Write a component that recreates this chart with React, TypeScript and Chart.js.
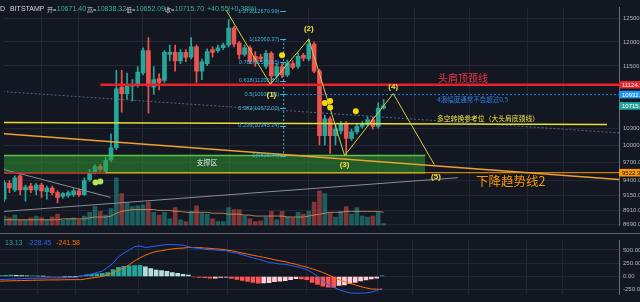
import React, { useEffect, useRef } from "react";
import { Chart, registerables } from "chart.js";

Chart.register(...registerables);

// ---------------- data ----------------
const opens = [
  9086, 9345, 9237, 9469, 9237, 9298, 9237, 9314, 9207, 9268,
  9192, 9131, 9146, 9161, 9222, 9161, 9407, 9532, 9627, 9548,
  9739, 9951, 11079, 10952, 11098, 11134, 11357, 11817, 11079, 11246,
  11208, 11739, 11778, 11604, 11778, 11681, 11895, 11395, 11547, 11837,
  11817, 11876, 11935, 12295, 11974, 11739, 11876, 11700, 11681, 11489,
  11759, 11301, 11489, 11320, 11547, 11489, 11720, 11643, 11954, 11395,
  10167, 10474, 10167, 10251, 10371, 10117, 10234, 10336, 10371, 10457,
  10336, 10671.4,
];
const highs = [
  9391, 9391, 9469, 9501, 9314, 9345, 9345, 9345, 9298, 9298,
  9222, 9192, 9222, 9253, 9253, 9438, 9579, 9659, 9659, 9788,
  10200, 11414, 11414, 11357, 11227, 11489, 11876, 12093, 11489, 11339,
  11817, 11935, 11935, 11837, 11837, 12093, 11935, 11643, 11856, 11895,
  11935, 11974, 12479, 12336, 12013, 11935, 11915, 11798, 11739, 11817,
  11798, 11547, 11547, 11623, 11604, 11759, 11759, 12060.37, 11994, 11433,
  10544, 10509, 10371, 10422, 10422, 10285, 10388, 10422, 10509, 10509,
  10772, 10838.32,
];
const lows = [
  9041, 9192, 9207, 9161, 9056, 9192, 9161, 9116, 9086, 9161,
  9026, 9101, 9116, 9131, 9131, 9146, 9376, 9501, 9548, 9517,
  9707, 9918, 10596, 10844, 10808, 11079, 11320, 10579, 10934, 11025,
  11171, 11604, 11395, 11547, 11585, 11643, 11171, 11227, 11508, 11681,
  11778, 11837, 11895, 11895, 11643, 11700, 11547, 11489, 11585, 11451,
  11134, 11264, 11264, 11283, 11433, 11451, 11604, 11604, 11357, 10000,
  10000, 9853, 10000, 10200, 9815.44, 10083, 10200, 10302, 10336, 10285,
  10302, 10652.09,
];
const closes = [
  9360, 9268, 9438, 9237, 9283, 9237, 9314, 9222, 9268, 9192,
  9116, 9177, 9192, 9222, 9161, 9391, 9532, 9627, 9579, 9739,
  9951, 11043, 10952, 11116, 11134, 11376, 11817, 11098, 11227, 11171,
  11778, 11778, 11604, 11778, 11681, 11895, 11395, 11585, 11798, 11778,
  11876, 11935, 12295, 11954, 11739, 11876, 11604, 11585, 11643, 11759,
  11301, 11489, 11320, 11547, 11470, 11700, 11662, 11954, 11395, 10167,
  10474, 10167, 10285, 10371, 10117, 10234, 10336, 10388, 10457, 10336,
  10675.15, 10715.7,
];
const volumes = [
  10000, 8000, 11000, 6000, 6000, 8000, 10000, 8000, 6000, 9000,
  12000, 6000, 7000, 8000, 6000, 10000, 14000, 20000, 15000, 11000,
  18000, 51000, 34000, 24000, 20000, 21000, 22000, 25000, 14000, 11000,
  14000, 7000, 19000, 6000, 4000, 15000, 21000, 13000, 12000, 7000,
  4000, 4000, 19000, 17000, 17000, 10000, 7000, 4000, 5000, 9000,
  15000, 6000, 15000, 9000, 8000, 14000, 12000, 15000, 25000, 37000,
  34000, 13000, 9000, 15000, 20000, 12000, 19000, 10000, 9000, 10000,
  14000, 2000,
];
const volumeMA = [
  6000, 6000, 6000, 6000, 6000, 6000, 6000, 6000, 6000, 6000,
  6000, 7000, 7000, 7000, 7000, 7000, 8000, 9000, 9000, 9000,
  10000, 13000, 15000, 16000, 17000, 17000, 17000, 17000, 17000, 16000,
  16000, 16000, 15000, 15000, 14000, 14000, 14000, 14000, 14000, 13000,
  13000, 13000, 12000, 12000, 12000, 11000, 11000, 10000, 10000, 10000,
  10000, 10000, 10000, 9000, 9000, 9000, 9000, 10000, 11000, 12000,
  13000, 14000, 14000, 14000, 15000, 15000, 15000, 15000, 15000, 15000,
  15000, 14000,
];
const macdHist = [
  15, 20, 25, 20, 15, 10, 12, 8, 5, -5,
  -10, -12, -8, -5, -3, 10, 25, 40, 50, 60,
  75, 130, 170, 190, 200, 205, 210, 180, 150, 120,
  110, 95, 75, 60, 40, 25, -10, -20, -25, -30,
  -30, -20, -15, -35, -55, -75, -95, -110, -125, -120,
  -115, -100, -90, -80, -60, -40, -45, -60, -110, -150,
  -185, -200, -205, -170, -160, -130, -110, -85, -65, -45,
  -30, 13.13,
];
const macdLine = [
  -59, -55, -50, -45, -40, -38, -35, -32, -30, -28,
  -28, -27, -25, -20, -15, 0, 30, 45, 75, 100,
  175, 250, 370, 440, 500, 560, 575, 545, 560, 575,
  590, 600, 600, 595, 590, 560, 540, 530, 515, 505,
  500, 490, 485, 455, 440, 410, 380, 350, 325, 295,
  265, 250, 235, 230, 205, 190, 160, 130, 75, 0,
  -90, -160, -205, -250, -280, -310, -315, -315, -310, -295,
  -265, -228.45,
];
const signalLine = [
  -88, -85, -82, -80, -77, -75, -72, -70, -68, -66,
  -65, -64, -62, -61, -60, -60, -45, -30, -15, 0,
  30, 75, 120, 160, 220, 295, 350, 400, 440, 470,
  485, 505, 520, 530, 535, 545, 545, 545, 535, 530,
  520, 515, 500, 485, 465, 440, 420, 400, 380, 360,
  340, 315, 295, 280, 250, 230, 200, 175, 145, 110,
  75, 30, -15, -60, -95, -130, -160, -190, -215, -235,
  -240, -241.58,
];

const priceTicks = [12500, 12000, 11500, 10300, 10000, 9700, 9400, 9150, 8910, 8690];
const macdTicks = [500, 250, 0, -250];
const timeGridTicks = [7, 14, 25.8, 34.9, 42.2, 57, 70.1, 76.7, 87, 97.9, 104.6];

// drawn objects (value space: candle index, price)
const neckLine = [{ x: 18, y: 11124.5 }, { x: 116, y: 11124.5 }];
const wave4Limit = [{ x: 52, y: 10932.5 }, { x: 116, y: 10932.5 }];
const bullBearLine = [{ x: -1, y: 10408 }, { x: 112.8, y: 10371 }];
const slateLine = [{ x: -1, y: 10996 }, { x: 116, y: 10210 }];
const downTrend2 = [{ x: -1, y: 10210 }, { x: 116, y: 9400 }];
const level9522 = [{ x: 19, y: 9522.3 }, { x: 116, y: 9522.3 }];
const redShort = [{ x: -1, y: 9522.3 }, { x: 19, y: 9522.3 }];
const grayDesc = [{ x: -1, y: 9600 }, { x: 19.9, y: 9116 }];
const grayAsc = [{ x: -1, y: 8885 }, { x: 84.9, y: 9438 }];
const wavePath = [
  { x: 41.5, y: 12700 }, { x: 49.8, y: 11134 }, { x: 57, y: 12060.37 },
  { x: 63.7, y: 9815.44 }, { x: 72.8, y: 10952 }, { x: 80.5, y: 9659 },
];
const fibHigh = 12060.37;
const fibLow = 9815.44;
const fibLevels = [1.272, 1, 0.786, 0.618, 0.5, 0.382, 0.236, 0];
const zoneTop = [{ x: -1, y: 9815.44 }, { x: 78.8, y: 9815.44 }];
const zoneBottom = [{ x: -1, y: 9522.3 }, { x: 19, y: 9522.3 }, { x: 78.8, y: 9522.3 }];
const yellowDots = [
  { x: 52, y: 11720 }, { x: 60, y: 10772 }, { x: 61, y: 10808 },
  { x: 61, y: 10684 }, { x: 65.8, y: 10613 },
];
const greenDots = [{ x: 17.1, y: 9360 }, { x: 18, y: 9376 }];

const noteTexts = [
  { text: "头肩顶颈线", k: 81.2, price: 11246, color: "#f23645", size: 10 },
  { text: "4浪幅度通常不会超过0.5", k: 81.0, price: 10844, color: "#2f7fe0", size: 6.5 },
  { text: "多空转换参考位（大头肩底颈线）", k: 81.0, price: 10474, color: "#f0e442", size: 6.8 },
  { text: "下降趋势线2", k: 88.3, price: 9376, color: "#ff9800", size: 12.5 },
  { text: "支撑区", k: 36.0, price: 9691, color: "#e8e8e8", size: 7 },
];
const waveLabels = [
  { text: "(1)", k: 50.0, price: 10934 },
  { text: "(2)", k: 57.0, price: 12276 },
  { text: "(3)", k: 63.7, price: 9659 },
  { text: "(4)", k: 72.8, price: 11080 },
  { text: "(5)", k: 80.8, price: 9455 },
];
const axisTags = [
  { value: 11124.5, bg: "#e0252b", fg: "#ffffff" },
  { value: 10932.5, bg: "#2196f3", fg: "#ffffff" },
  { value: 10715.7, bg: "#26a69a", fg: "#ffffff" },
  { value: 9522.3, bg: "#ff9800", fg: "#131722" },
];

// ---------------- styles ----------------
const BG = "#131722";
const GRID = "#232733";
const UP = "#26a69a";
const DOWN = "#ef5350";
const AXIS_TXT = "#b2b5be";
const FONT = '"Liberation Sans", "Noto Sans CJK SC", sans-serif';
const CJK = '"Noto Sans CJK SC", "Liberation Sans", sans-serif';
const X_MIN = -0.02;
const X_MAX = 115.04;

const lineDs = (data: any[], color: string, width: number, order: number, dash: number[] = []) => ({
  type: "line" as const,
  data,
  borderColor: color,
  borderWidth: width,
  borderDash: dash,
  pointRadius: 0,
  fill: false,
  order,
  yAxisID: "y",
});

export default function App() {
  const priceRef = useRef<HTMLCanvasElement | null>(null);
  const macdRef = useRef<HTMLCanvasElement | null>(null);

  useEffect(() => {
    document.body.style.margin = "0";
    document.body.style.background = BG;
    Chart.defaults.font.family = FONT;

    const idx = opens.map((_, i) => i);
    const isUp = idx.map((i) => closes[i] >= opens[i]);
    const candleColor = isUp.map((u) => (u ? UP : DOWN));
    const volColor = isUp.map((u) => (u ? "rgba(38,166,154,0.5)" : "rgba(239,83,80,0.5)"));
    const histColor = macdHist.map((h, i) => {
      const prev = i > 0 ? macdHist[i - 1] : 0;
      if (h >= 0) return h >= prev ? "#26a69a" : "#b2dfdb";
      return h < prev ? "#ff5252" : "#ffcdd2";
    });

    const xScale = {
      type: "linear" as const,
      min: X_MIN,
      max: X_MAX,
      offset: false,
      ticks: { display: false },
      grid: { color: GRID, drawTicks: false, offset: false },
      border: { display: false },
      afterBuildTicks: (s: any) => {
        s.ticks = timeGridTicks.map((v) => ({ value: v }));
      },
      afterFit: (s: any) => {
        s.height = 0;
      },
    };

    const pricePlugin = {
      id: "priceOverlay",
      afterDraw(chart: any) {
        const ctx = chart.ctx as CanvasRenderingContext2D;
        const xs = chart.scales.x;
        const ys = chart.scales.y;
        ctx.save();
        ctx.textBaseline = "middle";

        // fibonacci labels
        ctx.font = `5.6px ${FONT}`;
        ctx.textAlign = "right";
        fibLevels.forEach((lv) => {
          const p = fibLow + lv * (fibHigh - fibLow);
          const y = ys.getPixelForValue(p);
          ctx.fillStyle = "#3fb6dc";
          ctx.fillText(`${lv}(${p.toFixed(2)})`, xs.getPixelForValue(51.5), y);
          ctx.strokeStyle = "#3fb6dc";
          ctx.lineWidth = 1;
          ctx.beginPath();
          ctx.moveTo(xs.getPixelForValue(51.65), Math.round(y) + 0.5);
          ctx.lineTo(xs.getPixelForValue(52.75), Math.round(y) + 0.5);
          ctx.stroke();
        });

        // annotation texts
        ctx.textAlign = "left";
        noteTexts.forEach((n) => {
          ctx.font = `${n.size}px ${CJK}`;
          ctx.fillStyle = n.color;
          ctx.fillText(n.text, xs.getPixelForValue(n.k), ys.getPixelForValue(n.price));
        });

        // wave labels
        ctx.textAlign = "center";
        ctx.font = `bold 8px ${FONT}`;
        ctx.fillStyle = "#f5e03a";
        waveLabels.forEach((w) => {
          ctx.fillText(w.text, xs.getPixelForValue(w.k), ys.getPixelForValue(w.price));
        });

        // header
        ctx.textAlign = "left";
        const last = opens.length - 1;
        const chg = closes[last] - closes[last - 1];
        const pct = (chg / closes[last - 1]) * 100;
        const LIGHT = "#d1d4dc";
        const VAL = "#3bb09c";
        ctx.font = `7px ${FONT}`;
        ctx.fillStyle = LIGHT;
        ctx.fillText("D", 0, 9.5);
        ctx.fillText("BITSTAMP", 10, 9.5);
        const groups: [string, string, number][] = [
          ["开=", opens[last].toFixed(2), 47],
          ["高=", highs[last].toFixed(2), 87],
          ["低=", lows[last].toFixed(2), 126],
          ["收=", closes[last].toFixed(2), 165],
        ];
        groups.forEach(([lab, val, x0]) => {
          ctx.font = `6px ${CJK}`;
          ctx.fillStyle = LIGHT;
          ctx.fillText(lab, x0, 9.5);
          const w = ctx.measureText(lab).width;
          ctx.font = `7px ${FONT}`;
          ctx.fillStyle = VAL;
          ctx.fillText(val, x0 + w + 0.5, 9.5);
        });
        ctx.font = `7px ${FONT}`;
        ctx.fillStyle = VAL;
        ctx.fillText(`+${chg.toFixed(2)}`, 207, 9.5);
        ctx.fillText(`(+${pct.toFixed(2)}%)`, 228, 9.5);

        // axis tags
        const ax = chart.chartArea.right;
        ctx.font = `6px ${FONT}`;
        axisTags.forEach((t) => {
          const y = ys.getPixelForValue(t.value);
          ctx.fillStyle = t.bg;
          ctx.fillRect(ax, y - 3.8, chart.width - ax, 7.6);
          ctx.fillStyle = t.fg;
          ctx.fillText(t.value.toFixed(2), ax + 3, y + 0.3);
        });
        ctx.restore();
      },
    };

    const priceChart = new Chart(priceRef.current as HTMLCanvasElement, {
      type: "bar",
      data: {
        datasets: [
          {
            type: "line",
            data: yellowDots,
            showLine: false,
            pointRadius: 3,
            pointBackgroundColor: "#f5d90a",
            pointBorderWidth: 0,
            order: 0,
            yAxisID: "y",
          } as any,
          {
            type: "line",
            data: greenDots,
            showLine: false,
            pointRadius: 3,
            pointBackgroundColor: "#b7e35a",
            pointBorderWidth: 0,
            order: 0,
            yAxisID: "y",
          } as any,
          lineDs(wavePath, "#cfcf48", 1, 1),
          lineDs(neckLine, "#e8202a", 2.5, 2),
          lineDs(wave4Limit, "#2f7fe0", 1, 2, [2, 2]),
          lineDs(bullBearLine, "#e8e030", 1.5, 2),
          lineDs(slateLine, "rgba(110,125,170,0.75)", 1, 3, [2, 2]),
          lineDs(downTrend2, "#f0a030", 1.5, 2),
          lineDs(level9522, "#ff9800", 1, 3),
          lineDs(redShort, "#c62828", 1.5, 3),
          lineDs(grayDesc, "#8a8d96", 1, 3),
          lineDs(grayAsc, "#8a8d96", 1, 3),
          lineDs([{ x: 52.3, y: fibHigh }, { x: 52.3, y: fibLow }], "#3fb6dc", 1, 2, [2, 2]),
          {
            ...lineDs(zoneTop, "#5cc24a", 1.5, 7),
          } as any,
          {
            ...lineDs(zoneBottom, "#5cc24a", 1.5, 7),
            fill: "-1",
            backgroundColor: "rgba(46,160,46,0.5)",
          } as any,
          {
            type: "bar",
            data: idx.map((i) => ({ x: i, y: [opens[i], closes[i]] })),
            backgroundColor: candleColor,
            barThickness: 4,
            grouped: false,
            order: 8,
            yAxisID: "y",
          } as any,
          {
            type: "bar",
            data: idx.map((i) => ({ x: i, y: [lows[i], highs[i]] })),
            backgroundColor: candleColor,
            barThickness: 1,
            grouped: false,
            order: 9,
            yAxisID: "y",
          } as any,
          {
            type: "line",
            data: idx.map((i) => ({ x: i, y: volumeMA[i] })),
            borderColor: "rgba(220,150,90,0.8)",
            borderWidth: 1,
            pointRadius: 0,
            order: 11,
            yAxisID: "yv",
          } as any,
          {
            type: "bar",
            data: idx.map((i) => ({ x: i, y: volumes[i] })),
            backgroundColor: volColor,
            barThickness: 4,
            grouped: false,
            order: 12,
            yAxisID: "yv",
          } as any,
        ],
      },
      options: {
        responsive: false,
        animation: false,
        devicePixelRatio: 1,
        layout: { padding: 0 },
        plugins: { legend: { display: false }, tooltip: { enabled: false } },
        scales: {
          x: xScale as any,
          y: {
            type: "logarithmic",
            position: "right",
            min: 8675,
            max: 12750,
            afterBuildTicks: (s: any) => {
              s.ticks = priceTicks.map((v) => ({ value: v }));
            },
            afterFit: (s: any) => {
              s.width = 21;
            },
            ticks: {
              color: AXIS_TXT,
              font: { size: 6 },
              padding: 4,
              autoSkip: false,
              callback: (v: any) => Number(v).toFixed(2),
            },
            grid: { color: GRID, drawTicks: false },
            border: { color: "#6a6d78" },
          } as any,
          yv: { type: "linear", display: false, min: 0, max: 233000 },
        },
      },
      plugins: [pricePlugin],
    });

    const macdPlugin = {
      id: "macdOverlay",
      afterDraw(chart: any) {
        const ctx = chart.ctx as CanvasRenderingContext2D;
        ctx.save();
        ctx.strokeStyle = "#5d606b";
        ctx.lineWidth = 1;
        ctx.beginPath();
        ctx.moveTo(0, 0.5);
        ctx.lineTo(chart.width, 0.5);
        ctx.stroke();
        const last = macdHist.length - 1;
        ctx.font = `7px ${FONT}`;
        ctx.textBaseline = "middle";
        ctx.textAlign = "left";
        let x = 5;
        const items: [string, string][] = [
          [macdHist[last].toFixed(2), "#26a69a"],
          [macdLine[last].toFixed(2), "#2962ff"],
          [signalLine[last].toFixed(2), "#ff6d00"],
        ];
        items.forEach(([t, c]) => {
          ctx.fillStyle = c;
          ctx.fillText(t, x, 10);
          x += ctx.measureText(t).width + 5;
        });
        ctx.restore();
      },
    };

    const macdChart = new Chart(macdRef.current as HTMLCanvasElement, {
      type: "bar",
      data: {
        datasets: [
          {
            type: "line",
            data: idx.map((i) => ({ x: i, y: macdLine[i] })),
            borderColor: "#2962ff",
            borderWidth: 1,
            pointRadius: 0,
            order: 1,
          } as any,
          {
            type: "line",
            data: idx.map((i) => ({ x: i, y: signalLine[i] })),
            borderColor: "#ff6d00",
            borderWidth: 1,
            pointRadius: 0,
            order: 2,
          } as any,
          {
            type: "bar",
            data: idx.map((i) => ({ x: i, y: macdHist[i] })),
            backgroundColor: histColor,
            barThickness: 4,
            grouped: false,
            order: 3,
          } as any,
        ],
      },
      options: {
        responsive: false,
        animation: false,
        devicePixelRatio: 1,
        layout: { padding: 0 },
        plugins: { legend: { display: false }, tooltip: { enabled: false } },
        scales: {
          x: xScale as any,
          y: {
            type: "linear",
            position: "right",
            min: -338,
            max: 676,
            afterBuildTicks: (s: any) => {
              s.ticks = macdTicks.map((v) => ({ value: v }));
            },
            afterFit: (s: any) => {
              s.width = 21;
            },
            ticks: {
              color: AXIS_TXT,
              font: { size: 6 },
              padding: 4,
              autoSkip: false,
              callback: (v: any) => Number(v).toFixed(2),
            },
            grid: { color: GRID, drawTicks: false },
            border: { color: "#6a6d78" },
          } as any,
        },
      },
      plugins: [macdPlugin],
    });

    return () => {
      priceChart.destroy();
      macdChart.destroy();
    };
  }, []);

  return (
    <div style={{ position: "fixed", left: 0, top: 0, width: 640, height: 302, background: BG, overflow: "hidden" }}>
      <canvas ref={priceRef} width={640} height={233} style={{ position: "absolute", left: 0, top: 0, display: "block" }} />
      <canvas ref={macdRef} width={640} height={69} style={{ position: "absolute", left: 0, top: 233, display: "block" }} />
    </div>
  );
}
